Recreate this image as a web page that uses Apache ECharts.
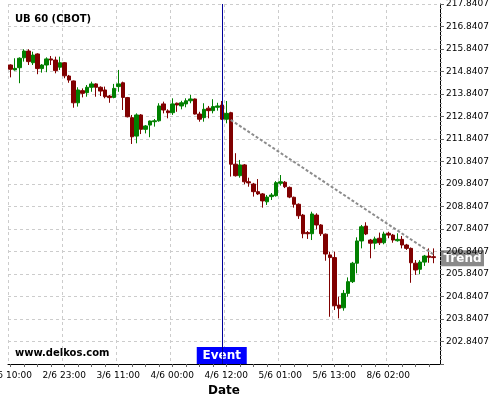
<!DOCTYPE html>
<html>
<head>
<meta charset="utf-8">
<script src="https://cdn.jsdelivr.net/npm/echarts@6/dist/echarts.min.js"></script>
<style>
html,body{margin:0;padding:0;background:#fff}
#main{width:500px;height:400px}
</style>
</head>
<body>
<div id="main"></div>
<script>
// tick labels, one every 12 candles
var tickLabels = ['2/6 10:00','2/6 23:00','3/6 11:00','4/6 00:00','4/6 12:00','5/6 01:00','5/6 13:00','8/6 02:00'];

var opens = [215.13,214.91,215.01,215.45,215.75,215.23,215.62,214.97,215.13,215.40,
  215.35,215.03,215.23,214.64,214.42,213.45,213.99,213.90,214.14,214.29,
  214.14,214.02,213.75,213.69,214.17,214.34,213.68,212.79,211.97,212.91,
  212.27,212.46,212.61,212.65,213.40,213.09,213.01,213.43,213.31,213.40,
  213.54,213.62,212.95,212.79,213.21,213.10,213.25,213.35,212.72,213.01,
  210.72,210.21,210.69,209.94,209.84,209.50,209.40,209.05,209.28,209.32,
  209.87,209.92,209.69,209.25,208.94,208.46,207.68,207.63,208.46,208.02,
  207.61,206.69,206.57,204.46,204.34,204.98,205.50,206.32,207.31,207.97,
  207.35,207.21,207.43,207.23,207.65,207.57,207.32,207.38,207.13,206.98,
  206.32,206.05,206.37,206.64,206.61];
var closes = [214.94,214.98,215.43,215.75,215.28,215.57,214.97,215.13,215.40,215.35,
  214.88,215.23,214.65,214.46,213.45,214.02,213.87,214.14,214.29,214.14,
  213.97,213.72,213.68,214.09,214.29,213.69,212.83,211.94,212.91,212.27,
  212.42,212.64,212.65,213.31,213.13,213.01,213.40,213.35,213.45,213.54,
  213.62,212.95,212.72,213.16,213.10,213.28,213.31,212.72,212.98,210.72,
  210.21,210.69,209.94,209.89,209.50,209.40,209.09,209.26,209.35,209.90,
  209.94,209.72,209.26,208.94,208.43,207.63,207.63,208.51,208.02,207.63,
  206.73,206.57,204.43,204.32,204.98,205.50,206.32,207.31,207.94,207.62,
  207.21,207.40,207.23,207.62,207.57,207.35,207.38,207.13,206.98,206.34,
  206.02,206.37,206.64,206.58,206.57];
var lows = [214.58,214.88,214.32,215.28,215.13,215.13,214.72,214.79,214.81,215.13,
  214.76,214.91,214.54,214.34,213.23,213.28,213.69,213.72,213.94,213.72,
  213.75,213.65,213.45,213.65,213.94,213.13,212.80,211.62,211.65,212.06,
  212.09,211.92,212.39,212.61,212.98,212.76,212.91,213.05,213.16,213.25,
  213.43,212.93,212.61,212.61,212.76,212.98,213.10,212.69,212.54,210.17,
  210.17,210.12,209.83,209.72,209.28,209.35,208.79,208.91,209.13,209.28,
  209.77,209.66,209.21,208.79,208.29,207.43,207.40,207.35,207.83,207.53,
  206.43,203.94,204.24,203.87,204.21,204.83,205.44,205.87,206.98,207.57,
  206.54,206.94,207.13,207.16,207.43,207.23,207.28,206.98,206.91,205.45,
  205.80,205.83,206.20,206.34,206.32];
var highs = [215.16,215.43,215.47,215.83,215.83,215.72,215.65,215.17,215.47,215.53,
  215.50,215.50,215.26,214.69,214.44,214.14,214.09,214.24,214.39,214.32,
  214.18,214.17,213.80,214.29,214.91,214.39,213.71,212.91,212.98,212.95,
  212.46,212.66,212.73,213.43,213.50,213.16,213.65,213.46,213.54,213.65,
  213.80,213.64,213.05,213.43,213.31,213.61,213.45,213.53,213.53,213.05,
  211.21,210.91,210.73,210.12,209.89,210.06,209.44,209.35,209.44,209.97,
  210.24,209.97,209.73,209.28,208.98,208.51,207.75,208.61,208.54,208.06,
  207.64,206.83,206.83,204.83,205.13,205.69,206.38,207.47,208.02,208.14,
  207.40,207.50,207.68,207.72,207.72,207.62,207.65,207.53,207.18,207.02,
  206.46,206.46,206.69,206.98,206.98];

var eventIndex = 47;
var trendX = [49, 94];
var trendY = [212.69, 206.72];
var yMin = 201.8407, yMax = 217.8407;

var categories = [];
for (var i = 0; i < 96; i++) {
  categories.push(i % 12 === 0 ? tickLabels[i / 12] : 'c' + i);
}
var candles = opens.map(function (o, i) { return [o, closes[i], lows[i], highs[i]]; });

var option = {
  animation: false,
  textStyle: {fontFamily: 'DejaVu Sans'},
  title: {
    text: 'UB 60 (CBOT)', left: 10, top: 9,
    textStyle: {fontSize: 10, fontWeight: 'bold', color: '#000', fontFamily: 'DejaVu Sans'}
  },
  grid: {left: 8, right: 60, top: 4, bottom: 36, containLabel: false, outerBoundsMode: 'none'},
  xAxis: {
    type: 'category',
    data: categories,
    boundaryGap: true,
    name: 'Date',
    nameLocation: 'middle',
    nameGap: 18,
    nameTextStyle: {fontSize: 12, fontWeight: 'bold', color: '#000'},
    axisLine: {show: true, lineStyle: {color: '#000'}},
    axisTick: {show: true, interval: 2, alignWithLabel: true, length: 3, lineStyle: {color: '#666'}},
    axisLabel: {show: true, interval: 11, fontSize: 9, color: '#000', margin: 7, hideOverlap: false},
    splitLine: {show: true, interval: 11, lineStyle: {color: '#ccc', type: [3, 3]}}
  },
  yAxis: {
    type: 'value',
    position: 'right',
    min: yMin,
    max: yMax,
    interval: 1,
    axisLine: {show: true, lineStyle: {color: '#000'}},
    axisTick: {show: true, length: 4, lineStyle: {color: '#666'}},
    minorTick: {show: true, splitNumber: 5, length: 2, lineStyle: {color: '#999'}},
    axisLabel: {
      fontSize: 9, color: '#000', margin: 6, showMinLabel: false,
      formatter: function (v) { return (yMin + Math.round(v - yMin)).toFixed(4); }
    },
    splitLine: {show: true, lineStyle: {color: '#ccc', type: [3, 3]}}
  },
  series: [
    {
      type: 'candlestick',
      data: candles,
      barWidth: 4,
      itemStyle: {
        color: '#008000', color0: '#800000',
        borderColor: '#008000', borderColor0: '#800000', borderWidth: 1
      },
      markLine: {
        silent: true,
        symbol: ['none', 'none'],
        label: {show: false},
        lineStyle: {color: '#00009a', width: 1, type: 'solid'},
        data: [{xAxis: eventIndex}]
      }
    },
    {
      type: 'line',
      data: trendX.map(function (x, i) { return [x, trendY[i]]; }),
      symbol: 'none',
      z: 3,
      lineStyle: {color: '#8c8c8c', width: 2, type: [3, 2]}
    }
  ]
};

var chart = echarts.init(document.getElementById('main'));
chart.setOption(option);

var ep = chart.convertToPixel({gridIndex: 0}, [eventIndex, yMin]);
var tp = chart.convertToPixel({gridIndex: 0}, [trendX[1], trendY[1]]);
var axisX = chart.getWidth() - 60;

chart.setOption({
  graphic: [
    {
      type: 'text', left: 15, top: 348,
      style: {text: 'www.delkos.com', fontSize: 10, fontWeight: 'bold', fill: '#000', fontFamily: 'DejaVu Sans'}
    },
    {
      type: 'group',
      children: [
        {type: 'rect', shape: {x: ep[0] - 25, y: ep[1] - 17, width: 50, height: 17}, style: {fill: '#0000ff'}},
        {type: 'text', x: ep[0], y: ep[1] - 8, style: {text: 'Event', fill: '#fff', fontSize: 12, fontWeight: 'bold',
          fontFamily: 'DejaVu Sans', align: 'center', verticalAlign: 'middle'}}
      ]
    },
    {
      type: 'group',
      children: [
        {type: 'rect', shape: {x: axisX + 1, y: tp[1] - 4, width: 43, height: 16}, style: {fill: '#8a8a8a'}},
        {type: 'text', x: axisX + 22.5, y: tp[1] + 4.5, style: {text: 'Trend', fill: '#fff', fontSize: 12, fontWeight: 'bold',
          fontFamily: 'DejaVu Sans', align: 'center', verticalAlign: 'middle'}}
      ]
    }
  ]
});
</script>
</body>
</html>
